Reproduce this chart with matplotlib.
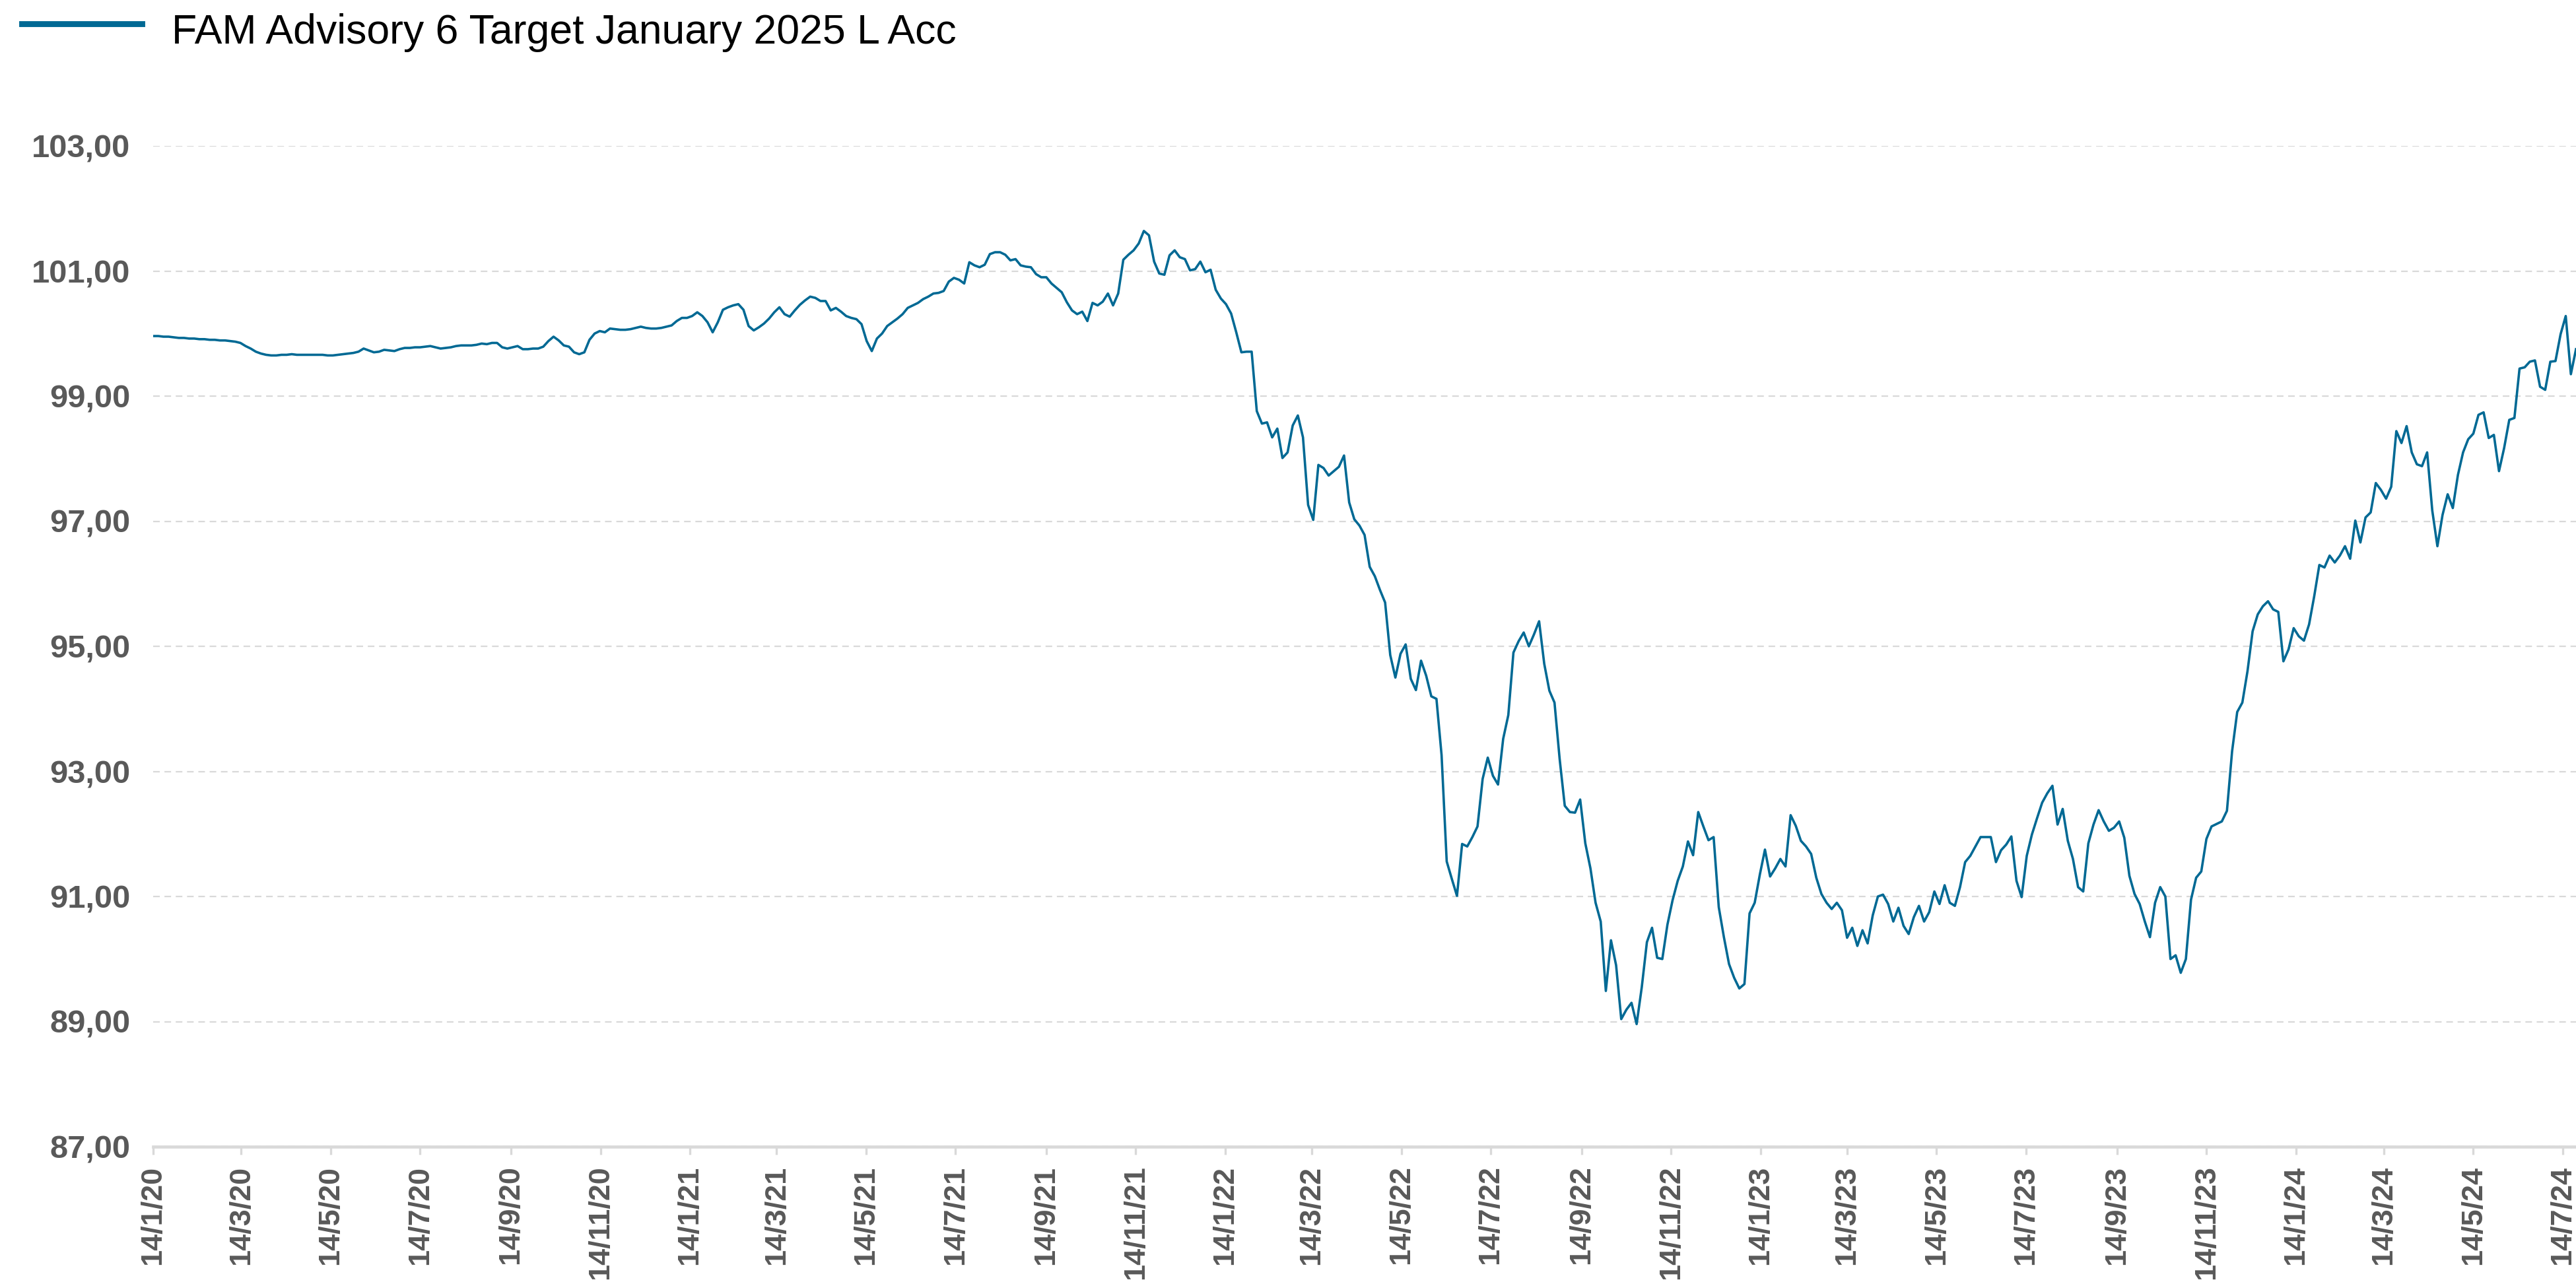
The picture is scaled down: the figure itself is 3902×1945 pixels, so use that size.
import numpy as np
import pandas as pd
import matplotlib
matplotlib.use("Agg")
from matplotlib import pyplot as plt
from matplotlib.lines import Line2D

nav_2020 = [99.96, 99.96, 99.95, 99.95, 99.94, 99.93, 99.93, 99.92, 99.92, 99.91,
            99.91, 99.90, 99.90, 99.89, 99.89, 99.88, 99.87, 99.85, 99.80, 99.76,
            99.71, 99.68, 99.66, 99.65, 99.65, 99.66, 99.66, 99.67, 99.66, 99.66,
            99.66, 99.66, 99.66, 99.66, 99.65, 99.65, 99.66, 99.67, 99.68, 99.69,
            99.71, 99.76, 99.73, 99.70, 99.71, 99.74, 99.73, 99.72, 99.75, 99.77,
            99.77, 99.78, 99.78, 99.79, 99.80, 99.78, 99.76, 99.77, 99.78, 99.80,
            99.81, 99.81, 99.81, 99.82, 99.84, 99.83, 99.85, 99.85, 99.78, 99.76,
            99.78, 99.80, 99.75, 99.75, 99.76, 99.76, 99.79, 99.88, 99.95, 99.89,
            99.81, 99.79, 99.70, 99.67, 99.70, 99.90, 100.00, 100.04, 100.02, 100.08,
            100.07, 100.06, 100.06, 100.07, 100.09, 100.11, 100.09, 100.08, 100.08, 100.09,
            100.11]
nav_2021 = [100.13, 100.20, 100.25, 100.25, 100.28, 100.34, 100.28, 100.18, 100.02,
            100.18, 100.38, 100.42, 100.45, 100.47, 100.38, 100.12, 100.05, 100.10, 100.16,
            100.24, 100.34, 100.42, 100.31, 100.27, 100.37, 100.46, 100.53, 100.59, 100.57,
            100.52, 100.52, 100.37, 100.41, 100.35, 100.28, 100.25, 100.23, 100.15, 99.88,
            99.72, 99.92, 100.00, 100.12, 100.18, 100.24, 100.31, 100.41, 100.45, 100.49,
            100.55, 100.59, 100.64, 100.65, 100.68, 100.83, 100.89, 100.86, 100.80, 101.14,
            101.09, 101.06, 101.10, 101.27, 101.30,
            101.30, 101.26, 101.17, 101.19, 101.09,
            101.07, 101.06, 100.95, 100.90, 100.90, 100.80, 100.73, 100.66, 100.50, 100.37,
            100.31, 100.35, 100.20, 100.49, 100.45, 100.51, 100.64, 100.45, 100.64, 101.18,
            101.26, 101.33, 101.44, 101.64, 101.57, 101.15, 100.96, 100.94, 101.25, 101.33,
            101.22, 101.19, 101.01, 101.03, 101.15, 100.98]
nav_2022 = [101.02, 100.70, 100.56, 100.47,
            100.32, 100.02, 99.70, 99.71, 99.71, 98.76, 98.56, 98.58, 98.34, 98.48,
            98.01, 98.10, 98.53, 98.69, 98.34, 97.26, 97.02, 97.90, 97.85, 97.73,
            97.80, 97.87, 98.05, 97.30, 97.03, 96.93, 96.78, 96.27, 96.12, 95.90,
            95.70, 94.86, 94.50, 94.88, 95.03, 94.48, 94.30, 94.77, 94.53, 94.20,
            94.16, 93.26, 91.56, 91.28, 91.01, 91.84, 91.80, 91.95, 92.12, 92.88,
            93.22, 92.93, 92.79, 93.52, 93.90, 94.90, 95.08, 95.22, 95.00, 95.19,
            95.40, 94.72, 94.29, 94.10, 93.20, 92.45,
            92.35, 92.34, 92.55, 91.85,
            91.45, 90.90, 90.60, 89.49, 90.30, 89.90, 89.04, 89.19, 89.30, 88.96,
            89.55, 90.27, 90.50, 90.02, 90.00, 90.55, 90.94, 91.25, 91.48, 91.88,
            91.66, 92.35, 92.12, 91.90, 91.95, 90.83, 90.35, 89.92, 89.70, 89.53]
nav_2023 = [89.60, 90.73, 90.90, 91.35, 91.75, 91.32, 91.45, 91.60, 91.48, 92.30,
            92.13, 91.89, 91.80, 91.68, 91.30, 91.04, 90.90, 90.80, 90.90, 90.78,
            90.34, 90.50, 90.21, 90.46, 90.25, 90.70, 91.00, 91.03, 90.88, 90.60,
            90.82, 90.53, 90.40, 90.67, 90.85, 90.60, 90.75, 91.08, 90.88, 91.18,
            90.90, 90.85, 91.15, 91.55, 91.65, 91.80, 91.95, 91.95, 91.95, 91.55,
            91.74, 91.83, 91.96, 91.25, 90.99, 91.65, 91.99, 92.25, 92.50, 92.65,
            92.77, 92.15, 92.40, 91.89, 91.60, 91.15, 91.08, 91.85, 92.15, 92.38,
            92.20, 92.05, 92.10, 92.20, 91.94, 91.33, 91.04, 90.88, 90.60, 90.35,
            90.90, 91.15, 91.00, 90.00, 90.06, 89.78, 90.00, 90.95, 91.30, 91.40,
            91.92, 92.12, 92.16, 92.20, 92.37, 93.32, 93.95, 94.10, 94.60, 95.24,
            95.51, 95.64, 95.72, 95.59]
nav_2024 = [95.55, 94.76, 94.95, 95.29, 95.16, 95.09,
            95.35, 95.80, 96.30, 96.26, 96.45, 96.34, 96.45, 96.60, 96.40, 97.01,
            96.66, 97.06, 97.14, 97.61, 97.50, 97.36, 97.55, 98.44, 98.25, 98.52,
            98.10, 97.91, 97.88, 98.10, 97.17, 96.60, 97.10, 97.43, 97.21, 97.74,
            98.10, 98.31, 98.40, 98.70, 98.74, 98.33, 98.38, 97.80, 98.17, 98.62,
            98.65, 99.44, 99.46, 99.55, 99.57, 99.15, 99.10, 99.55, 99.56, 99.99,
            100.28, 99.35, 99.75]

series_name = "FAM Advisory 6 Target January 2025 L Acc"
y_ticks = [87, 89, 91, 93, 95, 97, 99, 101, 103]

nav = nav_2020 + nav_2021 + nav_2022 + nav_2023 + nav_2024
dates = pd.date_range("2020-01-14", periods=len(nav), freq="84h")

# ticks on the 14th of every other month
tick_dates = [pd.Timestamp(y, m, 14) for y in range(2020, 2025) for m in range(1, 13, 2)]
tick_dates = [d for d in tick_dates if d <= pd.Timestamp(2024, 7, 14)]
tick_labels = ["{}/{}/{}".format(d.day, d.month, d.year % 100) for d in tick_dates]

line_color = "#006994"
grey = "#595959"
light = "#d9d9d9"

plt.rcParams["font.family"] = ["Liberation Sans", "DejaVu Sans"]

W, H, dpi = 3902, 1945, 200
fig = plt.figure(figsize=(W / dpi, H / dpi), dpi=dpi)
ax = fig.add_axes([232 / W, 208 / H, 1 - 232 / W, (1737 - 221) / H])

ax.plot(dates, nav, color=line_color, linewidth=1.3, solid_joinstyle="round")

ax.set_xlim(dates[0], dates[-1])
ax.set_ylim(87, 103)

ax.set_yticks(y_ticks)
ax.set_yticklabels(["{:.2f}".format(v).replace(".", ",") for v in y_ticks],
                   fontsize=17.6, fontweight="bold", color=grey)
ax.tick_params(axis="y", length=0, pad=12.5)

ax.set_xticks(tick_dates)
ax.set_xticklabels(tick_labels, rotation=90, fontsize=16.2, fontweight="bold", color=grey)
ax.tick_params(axis="x", length=4.3, width=1.2, color=light, pad=6)

ax.yaxis.grid(True, color=light, linestyle=(0, (4.5, 3.2)), linewidth=0.8)
ax.set_axisbelow(True)
for s in ["top", "right", "left"]:
    ax.spines[s].set_visible(False)
ax.spines["bottom"].set_color(light)
ax.spines["bottom"].set_linewidth(1.7)
ax.spines["bottom"].set_zorder(3)

# legend drawn by hand at the top left
fig.add_artist(Line2D([33 / W, 215 / W], [1 - 36 / H, 1 - 36 / H],
                      color=line_color, linewidth=3.2, transform=fig.transFigure))
fig.text(260 / W, 1 - 66 / H, series_name, fontsize=22.5, color="black",
         ha="left", va="baseline")

fig.savefig("out.png", dpi=dpi)
